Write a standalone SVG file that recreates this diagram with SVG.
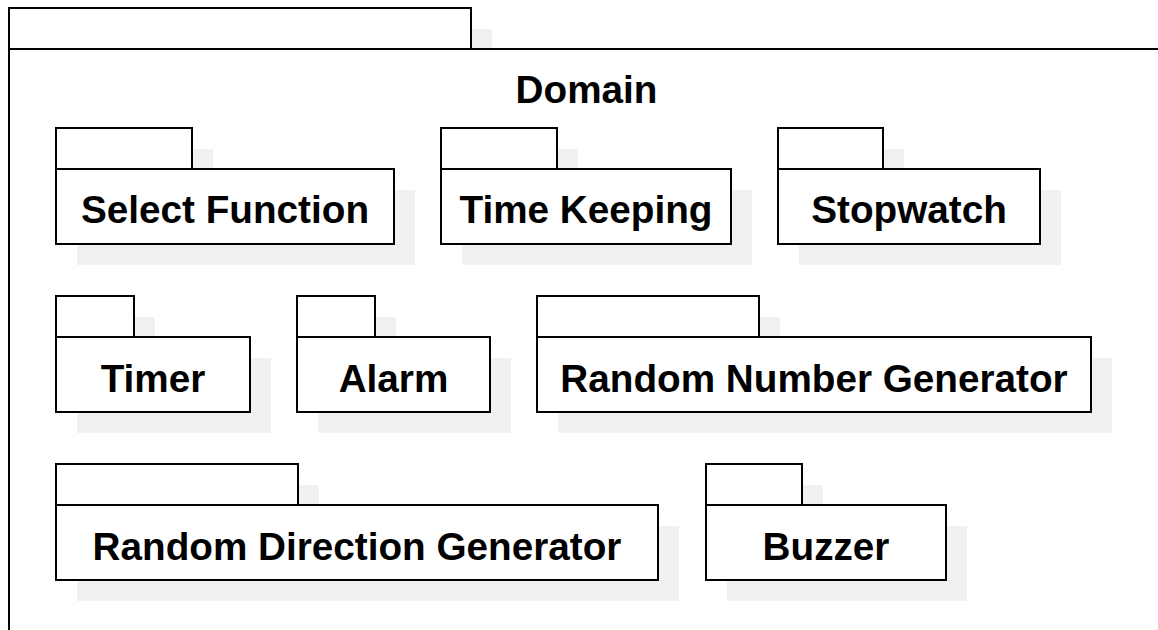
<svg xmlns="http://www.w3.org/2000/svg" width="1158" height="630" viewBox="0 0 1158 630">
  <style>
    .shadow { fill: #f1f1f1; stroke: none; }
    .box { fill: #ffffff; stroke: #000000; stroke-width: 2; }
    .label { font-family: "Liberation Sans", Arial, sans-serif; font-weight: bold; font-size: 38.7px; fill: #000000; text-anchor: middle; }
  </style>
  <rect x="0" y="0" width="1158" height="630" fill="#ffffff"/>

  <!-- outer Domain package: tab on top of a body, each with an offset shadow -->
  <g id="domain">
    <rect class="shadow" x="30" y="29" width="462" height="41"/>
    <rect class="shadow" x="30" y="70" width="1170" height="600"/>
    <rect class="box" x="9" y="8" width="462" height="41"/>
    <rect class="box" x="9" y="49" width="1170" height="600"/>
    <text class="label" x="586.5" y="103">Domain</text>
  </g>

  <!-- nested packages -->
  <g id="select-function">
    <rect class="shadow" x="77" y="149" width="136" height="41"/>
    <rect class="shadow" x="77" y="190" width="338" height="75"/>
    <rect class="box" x="56" y="128" width="136" height="41"/>
    <rect class="box" x="56" y="169" width="338" height="75"/>
    <text class="label" x="225" y="223">Select Function</text>
  </g>

  <g id="time-keeping">
    <rect class="shadow" x="462" y="149" width="116" height="41"/>
    <rect class="shadow" x="462" y="190" width="290" height="75"/>
    <rect class="box" x="441" y="128" width="116" height="41"/>
    <rect class="box" x="441" y="169" width="290" height="75"/>
    <text class="label" x="586" y="223">Time Keeping</text>
  </g>

  <g id="stopwatch">
    <rect class="shadow" x="799" y="149" width="105" height="41"/>
    <rect class="shadow" x="799" y="190" width="262" height="75"/>
    <rect class="box" x="778" y="128" width="105" height="41"/>
    <rect class="box" x="778" y="169" width="262" height="75"/>
    <text class="label" x="909" y="223">Stopwatch</text>
  </g>

  <g id="timer">
    <rect class="shadow" x="77" y="317" width="78" height="41"/>
    <rect class="shadow" x="77" y="358" width="194" height="75"/>
    <rect class="box" x="56" y="296" width="78" height="41"/>
    <rect class="box" x="56" y="337" width="194" height="75"/>
    <text class="label" x="153" y="392">Timer</text>
  </g>

  <g id="alarm">
    <rect class="shadow" x="318" y="317" width="78" height="41"/>
    <rect class="shadow" x="318" y="358" width="193" height="75"/>
    <rect class="box" x="297" y="296" width="78" height="41"/>
    <rect class="box" x="297" y="337" width="193" height="75"/>
    <text class="label" x="393.5" y="392">Alarm</text>
  </g>

  <g id="random-number-generator">
    <rect class="shadow" x="558" y="317" width="222" height="41"/>
    <rect class="shadow" x="558" y="358" width="554" height="75"/>
    <rect class="box" x="537" y="296" width="222" height="41"/>
    <rect class="box" x="537" y="337" width="554" height="75"/>
    <text class="label" x="814" y="392">Random Number Generator</text>
  </g>

  <g id="random-direction-generator">
    <rect class="shadow" x="77" y="485" width="242" height="41"/>
    <rect class="shadow" x="77" y="526" width="602" height="75"/>
    <rect class="box" x="56" y="464" width="242" height="41"/>
    <rect class="box" x="56" y="505" width="602" height="75"/>
    <text class="label" x="357" y="560">Random Direction Generator</text>
  </g>

  <g id="buzzer">
    <rect class="shadow" x="727" y="485" width="96" height="41"/>
    <rect class="shadow" x="727" y="526" width="240" height="75"/>
    <rect class="box" x="706" y="464" width="96" height="41"/>
    <rect class="box" x="706" y="505" width="240" height="75"/>
    <text class="label" x="826" y="560">Buzzer</text>
  </g>

  <!-- packages are not linked to each other -->
  <g id="connectors"/>
</svg>
